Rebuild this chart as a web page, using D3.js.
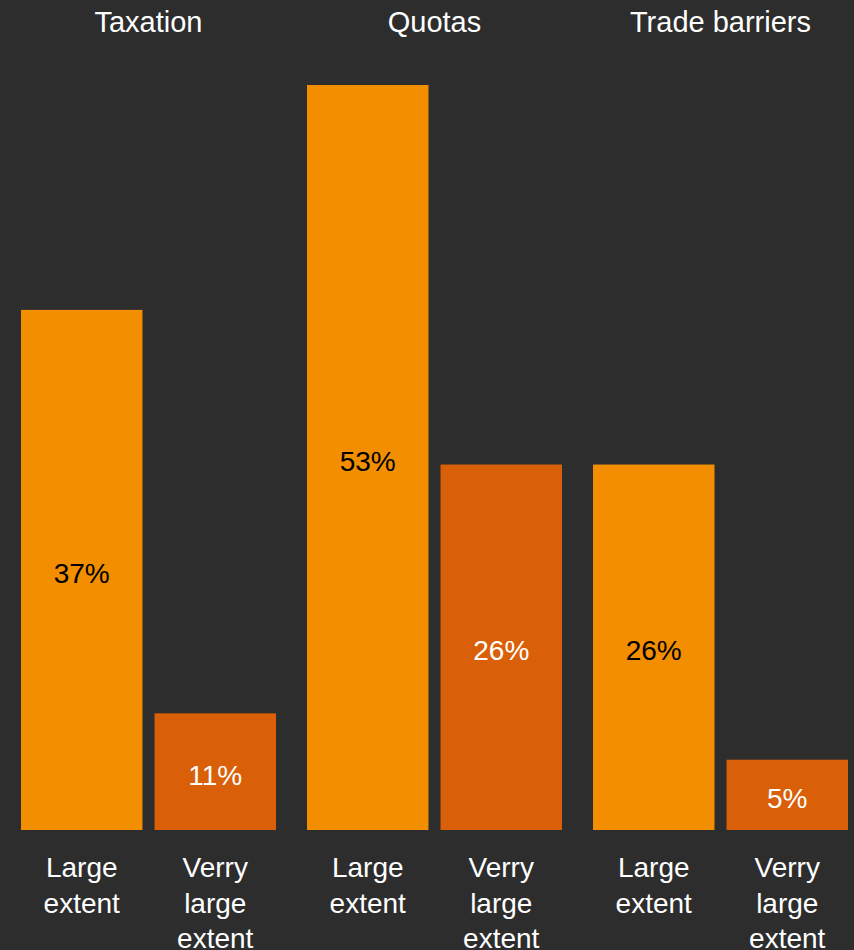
<!DOCTYPE html>
<html>
<head>
<meta charset="utf-8">
<script src="https://cdn.jsdelivr.net/npm/d3@7"></script>
<style>
  html, body { margin: 0; padding: 0; background: #2d2d2d; }
  svg { display: block; }
  text { font-family: "Liberation Sans", Arial, Helvetica, sans-serif; }
</style>
</head>
<body>
<svg id="chart" width="854" height="950"></svg>
<script>
const groups = ["Taxation", "Quotas", "Trade barriers"];
const series = ["Large extent", "Verry large extent"];
const largeValues = [37, 53, 26];
const veryLargeValues = [8.3, 26, 5];
const largeLabels = ["37%", "53%", "26%"];
const veryLargeLabels = ["11%", "26%", "5%"];
const seriesLabelLines = [["Large", "extent"], ["Verry", "large", "extent"]];

const colors = ["#f28e00", "#d95f08"];
const textColors = ["#000000", "#ffffff"];

const W = 854, H = 950;
const svg = d3.select("#chart");
svg.append("rect").attr("width", W).attr("height", H).attr("fill", "#2d2d2d");

const rows = [];
groups.forEach((g, i) => {
  rows.push({group: g, series: series[0], value: largeValues[i], label: largeLabels[i], si: 0});
  rows.push({group: g, series: series[1], value: veryLargeValues[i], label: veryLargeLabels[i], si: 1});
});

const x0 = d3.scaleBand().domain(groups).range([21, 848]).paddingInner(0.1084).paddingOuter(0);
const x1 = d3.scaleBand().domain(series).range([0, x0.bandwidth()]).paddingInner(0.0902).paddingOuter(0);
const y = d3.scaleLinear().domain([0, 53]).range([830, 85]);

// group titles
svg.selectAll("text.title").data(groups).join("text")
  .attr("class", "title")
  .attr("x", d => x0(d) + x0.bandwidth() / 2)
  .attr("y", 32)
  .attr("text-anchor", "middle")
  .attr("fill", "#ffffff")
  .attr("font-size", 29)
  .text(d => d);

// bars
svg.selectAll("rect.bar").data(rows).join("rect")
  .attr("class", "bar")
  .attr("x", d => x0(d.group) + x1(d.series))
  .attr("y", d => y(d.value))
  .attr("width", x1.bandwidth())
  .attr("height", d => y(0) - y(d.value))
  .attr("fill", d => colors[d.si]);

// value labels
svg.selectAll("text.val").data(rows).join("text")
  .attr("class", "val")
  .attr("x", d => x0(d.group) + x1(d.series) + x1.bandwidth() / 2)
  .attr("y", d => (y(d.value) + y(0)) / 2 + 13)
  .attr("text-anchor", "middle")
  .attr("fill", d => textColors[d.si])
  .attr("font-size", 28)
  .text(d => d.label);

// category labels under bars
const cat = svg.selectAll("text.cat").data(rows).join("text")
  .attr("class", "cat")
  .attr("text-anchor", "middle")
  .attr("fill", "#ffffff")
  .attr("font-size", 28);
cat.each(function(d) {
  const cx = x0(d.group) + x1(d.series) + x1.bandwidth() / 2;
  d3.select(this).selectAll("tspan").data(seriesLabelLines[d.si]).join("tspan")
    .attr("x", cx)
    .attr("y", (t, i) => 877 + i * 35.5)
    .text(t => t);
});
</script>
</body>
</html>
